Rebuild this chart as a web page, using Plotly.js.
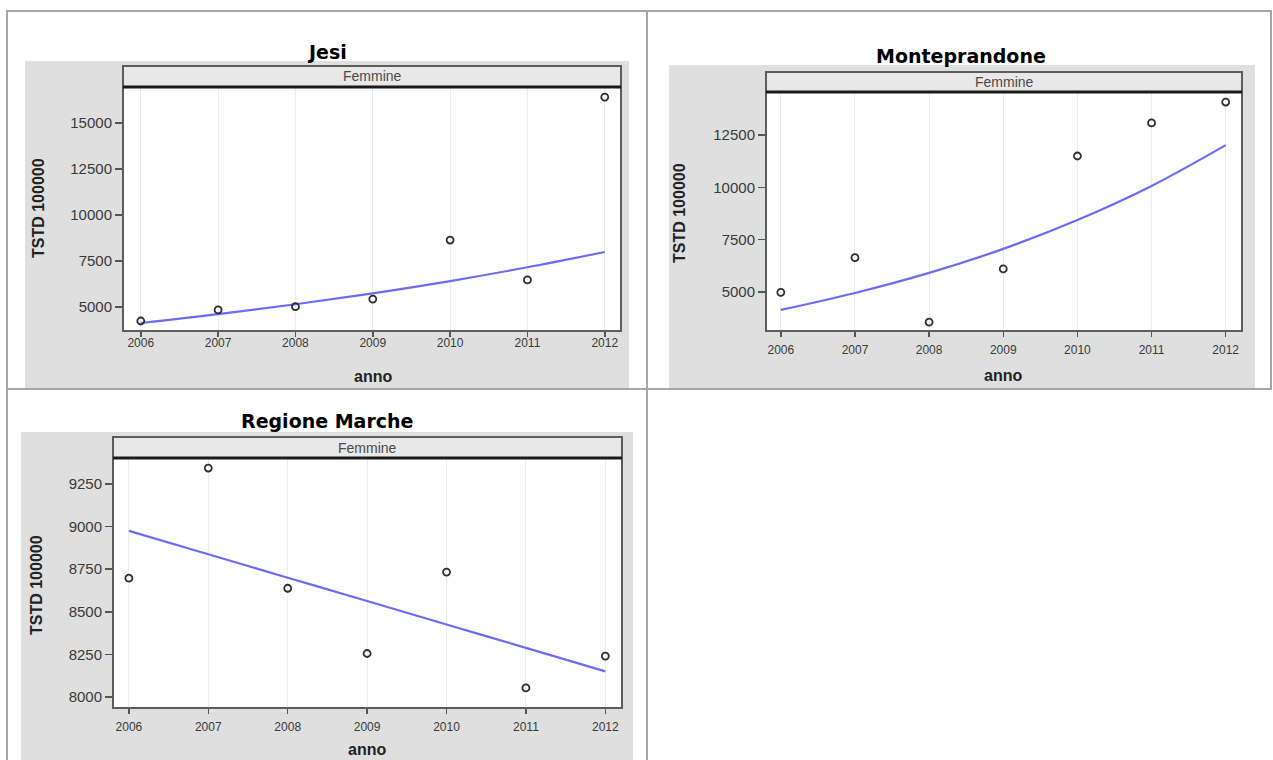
<!DOCTYPE html>
<html>
<head>
<meta charset="utf-8">
<script src="https://cdn.plot.ly/plotly-3.0.1.min.js"></script>
<style>
html,body{margin:0;padding:0;background:#fff;overflow:hidden;}
#chart{width:1273px;height:760px;}
</style>
</head>
<body>
<div id="chart"></div>
<script>
// ---- data ----
const years = [2006, 2007, 2008, 2009, 2010, 2011, 2012];
const yearLabels = ['2006', '2007', '2008', '2009', '2010', '2011', '2012'];
const panelTitles = ['Jesi', 'Monteprandone', 'Regione Marche'];
const stripLabel = 'Femmine';
const xTitle = 'anno';
const yTitle = 'TSTD 100000';

const jesiObs = [4240, 4840, 5020, 5430, 8640, 6470, 16410];
const jesiFit = [4130, 4610, 5150, 5745, 6410, 7160, 7990];
const jesiTicks = [5000, 7500, 10000, 12500, 15000];

const monteObs = [4980, 6640, 3560, 6100, 11500, 13080, 14080];
const monteFit = [4140, 4950, 5910, 7060, 8440, 10070, 12020];
const monteTicks = [5000, 7500, 10000, 12500];

const marcheObs = [8697, 9344, 8638, 8255, 8733, 8053, 8240];
const marcheFit = [8975, 8838, 8700, 8563, 8425, 8288, 8150];
const marcheTicks = [8000, 8250, 8500, 8750, 9000, 9250];

// ---- layout (pixel geometry) ----
const W = 1273, H = 760;
const px = v => v / W;
const py = v => 1 - v / H;

const panels = [
  {title: panelTitles[0], obs: jesiObs, fit: jesiFit, ticks: jesiTicks,
   bg: [25, 61, 629, 388], frame: [123, 66, 621, 331], stripBottom: 87,
   xr: [2005.77, 2012.21], yr: [3696, 16902],
   titlePos: [327, 52], yTitlePos: [39, 208], xTitlePos: [373, 376], xStand: -4},
  {title: panelTitles[1], obs: monteObs, fit: monteFit, ticks: monteTicks,
   bg: [669, 65, 1255, 388], frame: [766, 72, 1242, 331], stripBottom: 92,
   xr: [2005.80, 2012.22], yr: [3132, 14512],
   titlePos: [961, 56], yTitlePos: [680, 213], xTitlePos: [1003, 375], xStand: 3},
  {title: panelTitles[2], obs: marcheObs, fit: marcheFit, ticks: marcheTicks,
   bg: [21, 432, 633, 760], frame: [113, 437, 622, 708], stripBottom: 458,
   xr: [2005.80, 2012.21], yr: [7935, 9397],
   titlePos: [327, 421], yTitlePos: [36, 585], xTitlePos: [367, 749], xStand: 3}
];

const tickFont = 'Liberation Sans, Arial, sans-serif';
const traces = [];
const shapes = [];
const annotations = [];
const layout = {
  width: W, height: H, autosize: false,
  margin: {l: 0, r: 0, t: 0, b: 0, pad: 0},
  paper_bgcolor: '#ffffff', plot_bgcolor: '#ffffff',
  showlegend: false,
  shapes: shapes, annotations: annotations
};

// table borders
const borderColor = '#a6a6a6';
function hline(y, x0, x1) {
  shapes.push({type: 'line', xref: 'paper', yref: 'paper', layer: 'below',
    x0: px(x0), x1: px(x1), y0: py(y), y1: py(y), line: {color: borderColor, width: 2}});
}
function vline(x, y0, y1) {
  shapes.push({type: 'line', xref: 'paper', yref: 'paper', layer: 'below',
    x0: px(x), x1: px(x), y0: py(y0), y1: py(y1), line: {color: borderColor, width: 2}});
}
hline(11, 6, 1272);
hline(389, 6, 1272);
vline(7, 11, 760);
vline(647, 11, 760);
vline(1271, 11, 389);

panels.forEach((p, i) => {
  const n = i === 0 ? '' : String(i + 1);
  const xa = 'xaxis' + n, ya = 'yaxis' + n;
  const plotTop = p.stripBottom + 1;
  // gray background of the image
  shapes.push({type: 'rect', xref: 'paper', yref: 'paper', layer: 'below',
    x0: px(p.bg[0]), x1: px(p.bg[2]), y0: py(p.bg[3]), y1: py(p.bg[1]),
    fillcolor: '#dfdfdf', line: {width: 0}});
  // white data area
  shapes.push({type: 'rect', xref: 'paper', yref: 'paper', layer: 'below',
    x0: px(p.frame[0]), x1: px(p.frame[2]), y0: py(p.frame[3]), y1: py(p.stripBottom),
    fillcolor: '#ffffff', line: {width: 0}});
  // strip
  shapes.push({type: 'rect', xref: 'paper', yref: 'paper', layer: 'below',
    x0: px(p.frame[0]), x1: px(p.frame[2]), y0: py(p.stripBottom), y1: py(p.frame[1]),
    fillcolor: '#e8e8e8', line: {width: 0}});
  // frame around strip + plot
  shapes.push({type: 'rect', xref: 'paper', yref: 'paper', layer: 'above',
    x0: px(p.frame[0]), x1: px(p.frame[2]), y0: py(p.frame[3]), y1: py(p.frame[1]),
    line: {color: '#5c5c5c', width: 2}});
  // thick line under the strip
  shapes.push({type: 'line', xref: 'paper', yref: 'paper', layer: 'above',
    x0: px(p.frame[0]), x1: px(p.frame[2]), y0: py(p.stripBottom), y1: py(p.stripBottom),
    line: {color: '#1a1a1a', width: 3}});

  layout[xa] = {
    domain: [px(p.frame[0]), px(p.frame[2])],
    anchor: 'y' + n, range: p.xr,
    tickmode: 'array', tickvals: years, ticktext: yearLabels,
    ticks: 'outside', ticklen: 5, tickwidth: 1.5, tickcolor: '#555',
    ticklabelstandoff: p.xStand,
    showgrid: true, gridcolor: '#ececec', gridwidth: 1,
    zeroline: false, showline: false,
    tickfont: {family: tickFont, size: 12, color: '#3a3a3a'}
  };
  layout[ya] = {
    domain: [py(p.frame[3]), py(plotTop)],
    anchor: 'x' + n, range: p.yr,
    tickmode: 'array', tickvals: p.ticks, ticktext: p.ticks.map(String),
    ticks: 'outside', ticklen: 7, tickwidth: 1.5, tickcolor: '#555',
    showgrid: false, zeroline: false, showline: false,
    tickfont: {family: tickFont, size: 15, color: '#3a3a3a'}
  };

  traces.push({type: 'scatter', mode: 'lines', x: years, y: p.fit,
    xaxis: 'x' + n, yaxis: 'y' + n, hoverinfo: 'skip',
    line: {color: '#6b6bf5', width: 2.2, shape: 'spline'}});
  traces.push({type: 'scatter', mode: 'markers', x: years, y: p.obs,
    xaxis: 'x' + n, yaxis: 'y' + n,
    marker: {symbol: 'circle-open', size: 7, color: '#2e2e2e', line: {width: 1.8, color: '#2e2e2e'}}});

  // title above the image
  annotations.push({xref: 'paper', yref: 'paper', x: px(p.titlePos[0]), y: py(p.titlePos[1]),
    xanchor: 'center', yanchor: 'middle', showarrow: false,
    text: '<b>' + p.title + '</b>',
    font: {family: 'DejaVu Sans, Verdana, sans-serif', size: 19, color: '#000'}});
  // strip text
  annotations.push({xref: 'paper', yref: 'paper',
    x: px((p.frame[0] + p.frame[2]) / 2), y: py((p.frame[1] + p.stripBottom) / 2),
    xanchor: 'center', yanchor: 'middle', showarrow: false, text: stripLabel,
    font: {family: tickFont, size: 14, color: '#4a4a4a'}});
  // y title
  annotations.push({xref: 'paper', yref: 'paper', x: px(p.yTitlePos[0]), y: py(p.yTitlePos[1]),
    xanchor: 'center', yanchor: 'middle', showarrow: false, textangle: -90,
    text: '<b>' + yTitle + '</b>',
    font: {family: tickFont, size: 16, color: '#222'}});
  // x title
  annotations.push({xref: 'paper', yref: 'paper', x: px(p.xTitlePos[0]), y: py(p.xTitlePos[1]),
    xanchor: 'center', yanchor: 'middle', showarrow: false,
    text: '<b>' + xTitle + '</b>',
    font: {family: tickFont, size: 16, color: '#222'}});
});

Plotly.newPlot('chart', traces, layout, {staticPlot: true, displayModeBar: false});
</script>
</body>
</html>
